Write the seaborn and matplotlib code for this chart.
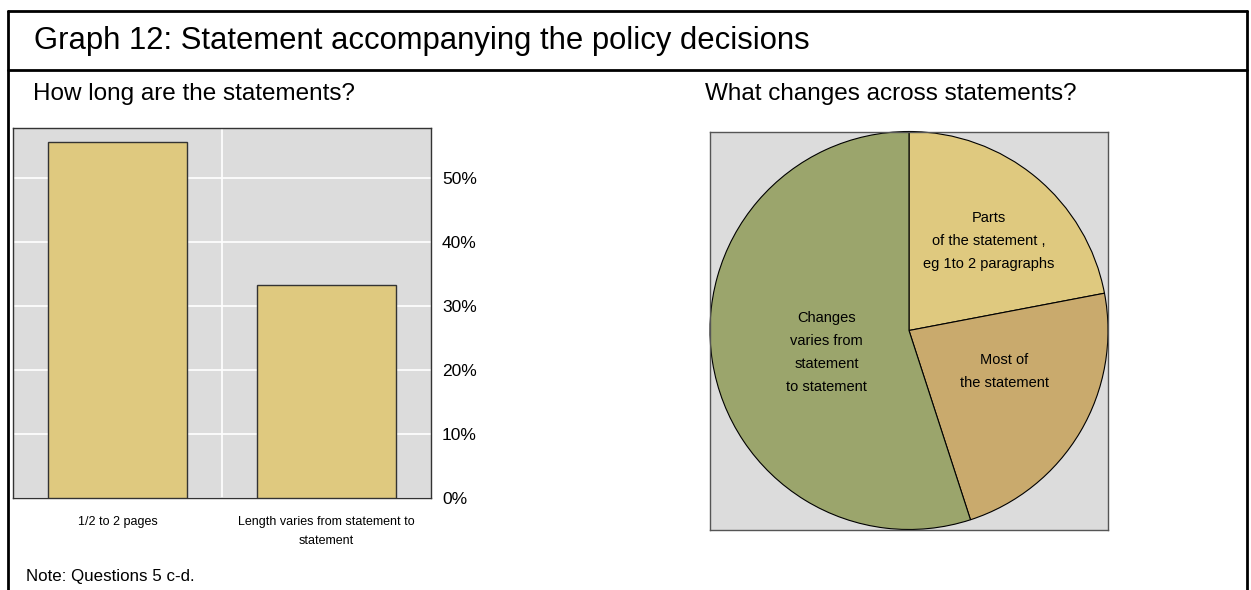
import matplotlib
matplotlib.use("Agg")
import matplotlib.pyplot as plt
import matplotlib.lines as mlines
import seaborn as sns
import pandas as pd

# datos
categorias = ["1/2 to 2 pages", "Length varies from statement to\nstatement"]
porcentajes = [55.6, 33.3]

sectores = ["Parts\nof the statement ,\neg 1to 2 paragraphs", "Most of\nthe statement",
            "Changes\nvaries from\nstatement\nto statement"]
valores_pie = [22, 23, 55]
colores_pie = ["#DFC97F", "#C9AA6D", "#9BA56C"]

W, H = 1251, 590

sns.set_style("white")
plt.rcParams['font.family'] = ['Liberation Sans', 'DejaVu Sans']
plt.rcParams['text.color'] = 'black'
plt.rcParams['xtick.color'] = 'black'
plt.rcParams['ytick.color'] = 'black'

fig = plt.figure(figsize=(W / 100, H / 100), dpi=100)


def fx(px):
    return px / W


def fy(py):
    return 1 - py / H


# marco exterior
for (x0, y0, x1, y1) in [(8, 11, 1247, 11), (8, 11, 8, 590), (1247, 11, 1247, 590), (8, 70, 1247, 70)]:
    fig.add_artist(mlines.Line2D([fx(x0), fx(x1)], [fy(y0), fy(y1)], color="black", lw=2))

fig.text(fx(34), fy(41), "Graph 12: Statement accompanying the policy decisions",
         fontsize=22.3, va="center", ha="left")
fig.text(fx(33), fy(94), "How long are the statements?", fontsize=17.5, va="center")
fig.text(fx(705), fy(94), "What changes across statements?", fontsize=17.5, va="center")
fig.text(fx(26), fy(577), "Note: Questions 5 c-d.", fontsize=12.2, va="center")

# ---- barras ----
ax1 = fig.add_axes([fx(13), fy(498), (431 - 13) / W, (498 - 128) / H])
df = pd.DataFrame({"cat": categorias, "pct": porcentajes})
sns.barplot(data=df, x="cat", y="pct", color="#DFC97F", width=0.665,
            edgecolor="#333333", linewidth=1, saturation=1, ax=ax1, zorder=3)
ax1.set_facecolor("#DCDCDC")
ax1.set_ylim(0, 57.8)
ax1.set_xlim(-0.5, 1.5)
ax1.set_yticks([0, 10, 20, 30, 40, 50])
ax1.set_yticklabels([f"{v}%" for v in [0, 10, 20, 30, 40, 50]], fontsize=12.5)
ax1.yaxis.tick_right()
ax1.tick_params(axis="y", length=0, pad=8)
ax1.tick_params(axis="x", length=0, pad=13, labelsize=9)
for lab in ax1.get_xticklabels():
    lab.set_linespacing(1.75)
ax1.set_xlabel("")
ax1.set_ylabel("")
ax1.grid(axis="y", color="white", lw=1.2, zorder=0)
ax1.axvline(0.5, color="white", lw=1.2, zorder=0)
ax1.set_axisbelow(True)
for s in ax1.spines.values():
    s.set_color("#333333")
    s.set_linewidth(1)
    s.set_visible(True)

# ---- pastel ----
ax2 = fig.add_axes([fx(710), fy(530), 398 / W, 399 / H])
ax2.set_facecolor("#DCDCDC")
ax2.pie(valores_pie, colors=colores_pie, startangle=90, counterclock=False,
        wedgeprops=dict(edgecolor="black", linewidth=0.8), radius=1, frame=True)
ax2.set_xlim(-1, 1)
ax2.set_ylim(-1, 1)
ax2.set_xticks([])
ax2.set_yticks([])
for s in ax2.spines.values():
    s.set_color("#555555")
    s.set_linewidth(1)
pos_etiquetas = [(0.40, 0.45), (0.48, -0.205), (-0.415, -0.11)]
for txt, (px, py) in zip(sectores, pos_etiquetas):
    ax2.text(px, py, txt, ha="center", va="center", fontsize=10.5, linespacing=1.8)

fig.savefig("out.png", dpi=100)
